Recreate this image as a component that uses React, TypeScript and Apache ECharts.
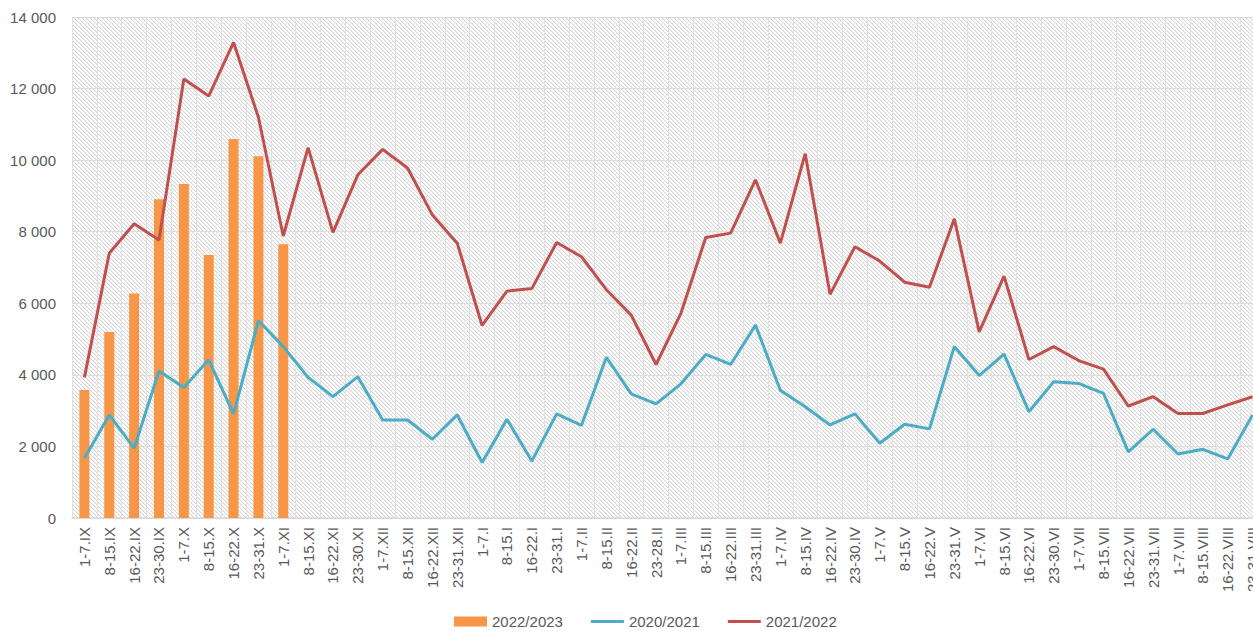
import React, { useEffect, useRef } from "react";
import * as echarts from "echarts";

const categories: string[] = [
  "1-7.IX", "8-15.IX", "16-22.IX", "23-30.IX",
  "1-7.X", "8-15.X", "16-22.X", "23-31.X",
  "1-7.XI", "8-15.XI", "16-22.XI", "23-30.XI",
  "1-7.XII", "8-15.XII", "16-22.XII", "23-31.XII",
  "1-7.I", "8-15.I", "16-22.I", "23-31.I",
  "1-7.II", "8-15.II", "16-22.II", "23-28.II",
  "1-7.III", "8-15.III", "16-22.III", "23-31.III",
  "1-7.IV", "8-15.IV", "16-22.IV", "23-30.IV",
  "1-7.V", "8-15.V", "16-22.V", "23-31.V",
  "1-7.VI", "8-15.VI", "16-22.VI", "23-30.VI",
  "1-7.VII", "8-15.VII", "16-22.VII", "23-31.VII",
  "1-7.VIII", "8-15.VIII", "16-22.VIII", "23-31.VIII",
];

const season2022_2023: (number | null)[] = [
  3580, 5200, 6270, 8910, 9330, 7350, 10590, 10110, 7650,
];

const season2020_2021: number[] = [
  1670, 2880, 1950, 4110, 3650, 4420, 2910, 5510,
  4790, 3930, 3390, 3950, 2740, 2740, 2200, 2880,
  1550, 2760, 1590, 2910, 2590, 4490, 3470, 3190,
  3750, 4570, 4290, 5390, 3570, 3110, 2600, 2910,
  2090, 2620, 2490, 4790, 3980, 4580, 2970, 3810,
  3760, 3480, 1850, 2480, 1790, 1920, 1650, 2880,
];

const season2021_2022: number[] = [
  3930, 7400, 8220, 7770, 12270, 11790, 13290, 11200,
  7880, 10350, 7980, 9590, 10300, 9780, 8470, 7680,
  5380, 6340, 6410, 7700, 7300, 6380, 5670, 4290,
  5720, 7840, 7960, 9450, 7680, 10180, 6250, 7580,
  7180, 6590, 6450, 8360, 5200, 6760, 4430, 4790,
  4400, 4160, 3130, 3390, 2920, 2920, 3160, 3390,
];

const seriesNames = ["2022/2023", "2020/2021", "2021/2022"];
const yMin = 0;
const yMax = 14000;
const yStep = 2000;

function makeHatch(): string {
  const c = document.createElement("canvas");
  c.width = 4;
  c.height = 4;
  const ctx = c.getContext("2d")!;
  ctx.fillStyle = "#ffffff";
  ctx.fillRect(0, 0, 4, 4);
  for (let i = 0; i < 4; i++) {
    ctx.fillStyle = "#d6d6d6";
    ctx.fillRect(i, i, 1, 1);
    ctx.fillStyle = "#efefef";
    ctx.fillRect((i + 1) % 4, i, 1, 1);
  }
  return c.toDataURL("image/png");
}

const lineIcon = "path://M0,0 L0,0 M0,10 L0,10 M0,3.5 L33,3.5 L33,6.5 L0,6.5 Z";

export default function App() {
  const ref = useRef<HTMLDivElement>(null);

  useEffect(() => {
    if (!ref.current) return;
    const chart = echarts.init(ref.current, undefined, { renderer: "svg" });
    const hatch = makeHatch();
    const font = "'Liberation Sans', Arial, sans-serif";

    chart.setOption({
      animation: false,
      backgroundColor: "#ffffff",
      textStyle: { fontFamily: font },
      grid: {
        show: true,
        left: 72,
        top: 17,
        right: -12,
        bottom: 113,
        containLabel: false,
        outerBoundsMode: "none",
        borderWidth: 0,
        backgroundColor: {
          image: hatch,
          repeat: "repeat",
          imageWidth: 4,
          imageHeight: 4,
        },
      },
      legend: {
        left: 449,
        top: 609,
        itemWidth: 33,
        itemHeight: 10,
        itemGap: 28,
        textStyle: { fontSize: 15, color: "#595959", fontFamily: font },
        data: [
          { name: seriesNames[0], icon: "rect" },
          { name: seriesNames[1], icon: lineIcon },
          { name: seriesNames[2], icon: lineIcon },
        ],
      },
      xAxis: {
        type: "category",
        data: categories,
        boundaryGap: true,
        axisTick: { show: false },
        axisLine: { show: true, lineStyle: { color: "#d9d9d9", width: 1.5 } },
        splitLine: { show: true, interval: 0, lineStyle: { color: "#e0e0e0", width: 1 } },
        axisLabel: {
          interval: 0,
          rotate: 90,
          fontSize: 15,
          color: "#595959",
          margin: 9,
          fontFamily: font,
        },
      },
      yAxis: {
        type: "value",
        min: yMin,
        max: yMax,
        interval: yStep,
        axisLine: { show: false },
        axisTick: { show: false },
        splitLine: { show: true, lineStyle: { color: "#dcdcdc", width: 1 } },
        axisLabel: {
          fontSize: 15,
          color: "#595959",
          margin: 16,
          fontFamily: font,
          formatter: (v: number) => String(v).replace(/\B(?=(\d{3})+(?!\d))/g, " "),
        },
      },
      series: [
        {
          name: seriesNames[0],
          type: "bar",
          data: season2022_2023,
          barWidth: 10,
          itemStyle: { color: "#F79646" },
        },
        {
          name: seriesNames[1],
          type: "line",
          data: season2020_2021,
          symbol: "none",
          lineStyle: { color: "#4BACC6", width: 3 },
          itemStyle: { color: "#4BACC6" },
        },
        {
          name: seriesNames[2],
          type: "line",
          data: season2021_2022,
          symbol: "none",
          lineStyle: { color: "#C0504D", width: 3 },
          itemStyle: { color: "#C0504D" },
        },
      ],
    });

    return () => chart.dispose();
  }, []);

  return (
    <div
      ref={ref}
      style={{ position: "absolute", left: 0, top: 0, width: 1253, height: 631 }}
    />
  );
}
